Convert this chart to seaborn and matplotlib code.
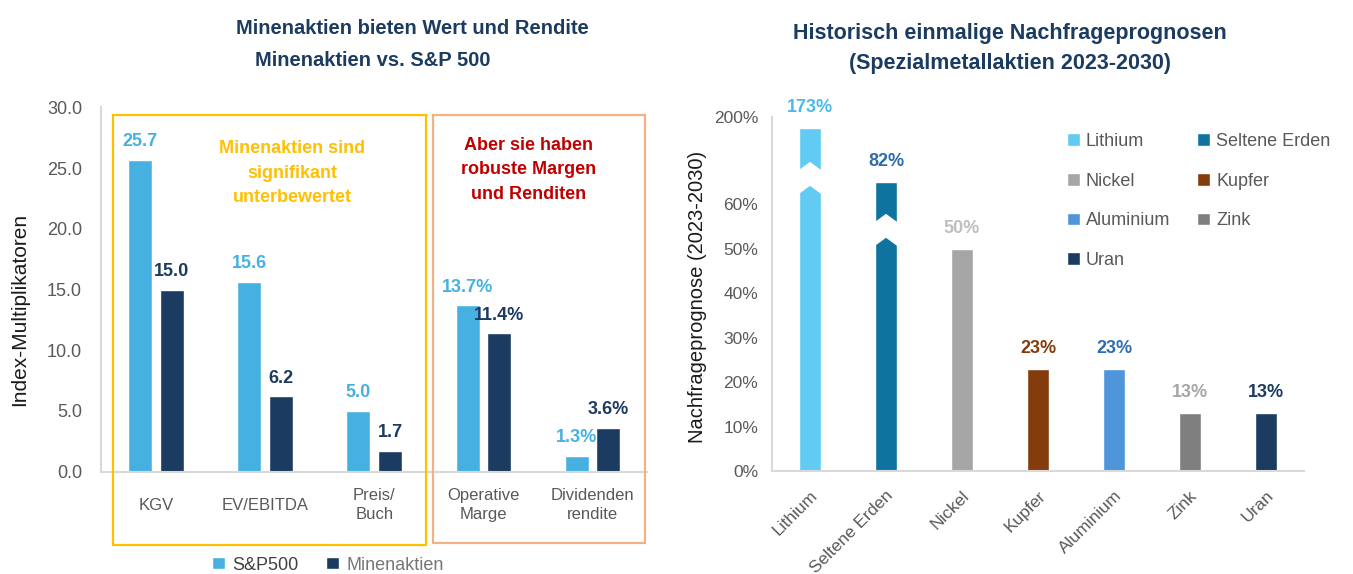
import numpy as np
import pandas as pd
import matplotlib
matplotlib.use("Agg")
import matplotlib.pyplot as plt
import matplotlib.transforms as mtransforms
from matplotlib.patches import Rectangle
import seaborn as sns

# Linkes Diagramm: Bewertung / Renditen
kategorien = ["KGV", "EV/EBITDA", "Preis/\nBuch", "Operative\nMarge", "Dividenden\nrendite"]
ist_prozent = [False, False, False, True, True]
sp500 = [25.7, 15.6, 5.0, 13.7, 1.3]
minen = [15.0, 6.2, 1.7, 11.4, 3.6]
serien = ["S&P500", "Minenaktien"]

# Rechtes Diagramm: Nachfrageprognose 2023-2030 (%)
metalle = ["Lithium", "Seltene Erden", "Nickel", "Kupfer", "Aluminium", "Zink", "Uran"]
nachfrage = [173, 82, 50, 23, 23, 13, 13]
y_ticks_rechts = [0, 10, 20, 30, 40, 50, 60, 200]

W, H = 1353, 574
fx = lambda x: x / W
fy = lambda y: 1 - y / H

NAVY = "#1B3B60"
HELLBLAU = "#46B1E1"
GRAU = "#595959"
ACHSE = "#D9D9D9"

sns.set_style("white")
plt.rcParams["font.family"] = ["Liberation Sans", "DejaVu Sans"]

fig = plt.figure(figsize=(W / 100, H / 100), dpi=100)

# ---------------- links ----------------
ax1 = fig.add_axes([fx(101.5), fy(471.7), 545.5 / W, 364.4 / H])
df1 = pd.DataFrame({
    "kategorie": kategorien * 2,
    "serie": [serien[0]] * len(kategorien) + [serien[1]] * len(kategorien),
    "wert": sp500 + minen,
})
sns.barplot(data=df1, x="kategorie", y="wert", hue="serie", hue_order=serien,
            palette=[HELLBLAU, NAVY], width=0.58, gap=0.24, ax=ax1, saturation=1)

for cont, vals, col in zip(ax1.containers, [sp500, minen], [HELLBLAU, NAVY]):
    labs = [f"{v:.1f}%" if p else f"{v:.1f}" for v, p in zip(vals, ist_prozent)]
    ax1.bar_label(cont, labels=labs, padding=7, color=col, fontsize=13, fontweight="bold")

ax1.set_ylim(0, 30)
ax1.set_xlim(-0.5, 4.5)
ax1.set_yticks(np.arange(0, 31, 5))
ax1.set_yticklabels([f"{t:.1f}" for t in np.arange(0, 31, 5)])
ax1.set_xlabel("")
ax1.set_ylabel("Index-Multiplikatoren", fontsize=15, color="#1a1a1a")
ax1.yaxis.set_label_coords(-0.133, 0.4465)
ax1.tick_params(axis="y", length=0, pad=14, labelsize=13, labelcolor=GRAU)
ax1.tick_params(axis="x", length=0, pad=24, labelsize=12, labelcolor=GRAU)
for lab in ax1.get_xticklabels():
    lab.set_va("center")
    lab.set_linespacing(1.4)
for s in ["top", "right"]:
    ax1.spines[s].set_visible(False)
for s in ["left", "bottom"]:
    ax1.spines[s].set_color(ACHSE)
    ax1.spines[s].set_linewidth(1.5)

h, l = ax1.get_legend_handles_labels()
leg1 = ax1.legend(h, l, loc="center", bbox_to_anchor=(fx(328), fy(565)),
                  bbox_transform=fig.transFigure, ncol=2, frameon=False, fontsize=13,
                  handlelength=0.7, handleheight=0.6, handletextpad=0.45, columnspacing=1.5)
leg1.get_texts()[0].set_color("#404040")
leg1.get_texts()[1].set_color("#767676")

fig.text(fx(412), fy(28), "Minenaktien bieten Wert und Rendite", ha="center", va="center",
         fontsize=14.5, fontweight="bold", color=NAVY)
fig.text(fx(373), fy(60), "Minenaktien vs. S&P 500", ha="center", va="center",
         fontsize=14.5, fontweight="bold", color=NAVY)
fig.text(fx(292), fy(173), "Minenaktien sind\nsignifikant\nunterbewertet", ha="center", va="center",
         fontsize=13, fontweight="bold", color="#FFC000", linespacing=1.6)
fig.text(fx(529), fy(170), "Aber sie haben\nrobuste Margen\nund Renditen", ha="center", va="center",
         fontsize=13, fontweight="bold", color="#C00000", linespacing=1.6)

fig.add_artist(Rectangle((fx(113), fy(545)), (426 - 113) / W, (545 - 115) / H,
                         transform=fig.transFigure, fill=False, ec="#FFC000", lw=1.6))
fig.add_artist(Rectangle((fx(433.5), fy(543)), (645 - 433.5) / W, (543 - 115) / H,
                         transform=fig.transFigure, fill=False, ec="#F4B183", lw=1.6))

# ---------------- rechts ----------------
C = 16.36


def vorwaerts(v):
    v = np.asarray(v, dtype=float)
    return np.where(v <= 60, v, 60 + C * np.log(np.maximum(v, 60) / 60))


def rueckwaerts(u):
    u = np.asarray(u, dtype=float)
    return np.where(u <= 60, u, 60 * np.exp((np.maximum(u, 60) - 60) / C))


farben = ["#61CBF3", "#0E749F", "#A6A6A6", "#843C0C", "#4E95D9", "#7F7F7F", NAVY]
label_farben = ["#4DB8EA", "#2E6DA8", "#BFBFBF", "#843C0C", "#2E6DB4", "#A6A6A6", NAVY]

ax2 = fig.add_axes([fx(772), fy(471), 532 / W, 354 / H])
df2 = pd.DataFrame({"metall": metalle, "wert": nachfrage})
sns.barplot(data=df2, x="metall", y="wert", hue="metall", palette=farben, width=0.3,
            ax=ax2, saturation=1, legend=True)
ax2.set_yscale("function", functions=(vorwaerts, rueckwaerts))
ax2.set_ylim(0, 200)
ax2.set_xlim(-0.5, 6.5)

for cont, col in zip(ax2.containers, label_farben):
    ax2.bar_label(cont, labels=[f"{cont.datavalues[0]:.0f}%"], padding=8.5,
                  color=col, fontsize=13, fontweight="bold")

# Achsenbruch: weisse Keile in den beiden hohen Balken
for i, basis in [(0, 61.7), (1, 50.0)]:
    amp, dicke, hb = 2.5, 5.4, 0.2
    xs = [i - hb, i, i + hb, i + hb, i, i - hb]
    us = [basis, basis + amp, basis, basis + dicke, basis + dicke + amp, basis + dicke]
    ax2.fill(xs, rueckwaerts(us), color="white", zorder=5, lw=0)

ax2.set_yticks(y_ticks_rechts)
ax2.set_yticklabels([f"{t}%" for t in y_ticks_rechts])
ax2.set_xlabel("")
ax2.set_ylabel("Nachfrageprognose (2023-2030)", fontsize=14.5, color="#1a1a1a")
ax2.yaxis.set_label_coords(-0.122, 0.493)
ax2.tick_params(axis="y", length=0, pad=10, labelsize=12.5, labelcolor=GRAU)
ax2.tick_params(axis="x", length=0, pad=16, labelsize=12.5, labelcolor=GRAU)
verschiebung = mtransforms.ScaledTranslation(5 / 100, 0, fig.dpi_scale_trans)
for lab in ax2.get_xticklabels():
    lab.set_rotation(45)
    lab.set_ha("right")
    lab.set_va("center")
    lab.set_rotation_mode("anchor")
    lab.set_transform(lab.get_transform() + verschiebung)
for s in ["top", "right"]:
    ax2.spines[s].set_visible(False)
for s in ["left", "bottom"]:
    ax2.spines[s].set_color(ACHSE)
    ax2.spines[s].set_linewidth(1.5)

h2, l2 = ax2.get_legend_handles_labels()
reihenfolge = [0, 2, 4, 6, 1, 3, 5]
leg2 = ax2.legend([h2[k] for k in reihenfolge], [l2[k] for k in reihenfolge],
                  loc="upper left", bbox_to_anchor=(fx(1067), fy(133)),
                  bbox_transform=fig.transFigure, ncol=2, frameon=False, fontsize=13,
                  borderpad=0, borderaxespad=0, handlelength=0.7, handleheight=0.7,
                  handletextpad=0.35, labelspacing=1.25, columnspacing=1.5)
for t in leg2.get_texts():
    t.set_color(GRAU)

fig.text(fx(1010), fy(33), "Historisch einmalige Nachfrageprognosen", ha="center", va="center",
         fontsize=15.5, fontweight="bold", color=NAVY)
fig.text(fx(1010), fy(63), "(Spezialmetallaktien 2023-2030)", ha="center", va="center",
         fontsize=15.5, fontweight="bold", color=NAVY)

fig.savefig("out.png", dpi=100)
